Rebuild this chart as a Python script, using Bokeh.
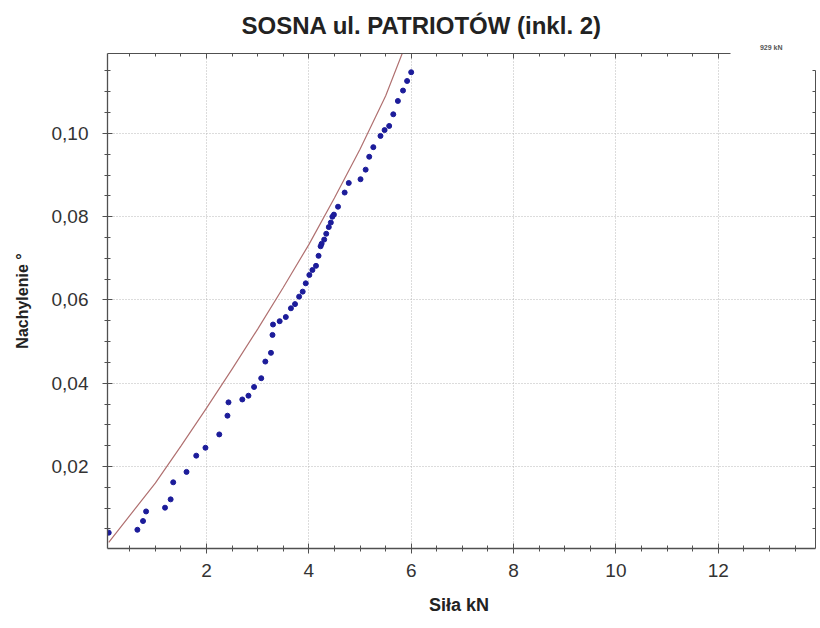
from bokeh.plotting import figure
from bokeh.models import (Range1d, SingleIntervalTicker, LinearAxis, CustomJSTickFormatter, Title)
from bokeh.embed import file_html
from bokeh.resources import INLINE

title_text = "SOSNA ul. PATRIOTÓW (inkl. 2)"
x_label = "Siła  kN"
y_label = "Nachylenie °"
legend_text = "929 kN"

force_kn = [0.09, 0.65, 0.76, 0.82, 1.19, 1.30, 1.35, 1.61, 1.80, 1.98, 2.25, 2.41, 2.43,
            2.70, 2.82, 2.93, 3.07, 3.15, 3.26, 3.29, 3.30, 3.43, 3.55, 3.65, 3.73, 3.81,
            3.88, 3.94, 4.01, 4.07, 4.14, 4.19, 4.23, 4.25, 4.30, 4.34, 4.39, 4.43, 4.46,
            4.49, 4.57, 4.70, 4.78, 5.01, 5.11, 5.18, 5.26, 5.40, 5.48, 5.57, 5.65, 5.74,
            5.84, 5.92, 6.00]
tilt_deg = [0.0041, 0.0048, 0.0069, 0.0092, 0.0101, 0.0121, 0.0162, 0.0187, 0.0226, 0.0245,
            0.0277, 0.0322, 0.0354, 0.0361, 0.0370, 0.0391, 0.0412, 0.0452, 0.0473, 0.0516,
            0.0541, 0.0549, 0.0559, 0.0580, 0.0590, 0.0608, 0.0620, 0.0640, 0.0660, 0.0672,
            0.0682, 0.0706, 0.0729, 0.0735, 0.0745, 0.0759, 0.0775, 0.0786, 0.0800, 0.0805,
            0.0824, 0.0858, 0.0881, 0.0890, 0.0913, 0.0944, 0.0967, 0.0994, 0.1008, 0.1018,
            0.1046, 0.1078, 0.1103, 0.1126, 0.1147]

fit_force_kn = [0.09, 0.50, 1.00, 1.50, 2.00, 2.50, 3.00, 3.50, 4.00, 4.50, 5.00, 5.50, 5.85]
fit_tilt_deg = [0.0018, 0.0082, 0.0160, 0.0249, 0.0340, 0.0434, 0.0530, 0.0630, 0.0733,
                0.0845, 0.0962, 0.1090, 0.1200]

x_tick_step = 2
y_tick_step = 0.02

FONT = "Liberation Sans"
AXIS_COL = "#505050"

x_start, x_end = 0.066, 13.9
y_start, y_end = 0.0003, 0.1192

p = figure(frame_width=708, frame_height=495,
           min_border_left=107, min_border_right=5, min_border_top=53, min_border_bottom=80,
           x_range=Range1d(x_start, x_end), y_range=Range1d(y_start, y_end),
           output_backend="svg", toolbar_location=None)
p.outline_line_color = None
p.background_fill_color = "white"
p.border_fill_color = "white"

p.xgrid.grid_line_color = "#b8b8b8"
p.ygrid.grid_line_color = "#b8b8b8"
p.xgrid.grid_line_dash = "1 2"
p.ygrid.grid_line_dash = "1 2"

xt = SingleIntervalTicker(interval=x_tick_step, num_minor_ticks=4)
yt = SingleIntervalTicker(interval=y_tick_step, num_minor_ticks=4)
p.xaxis.ticker = xt
p.yaxis.ticker = yt
p.xgrid.ticker = xt
p.ygrid.ticker = yt
p.yaxis.formatter = CustomJSTickFormatter(code="return tick.toFixed(2).replace('.', ',');")

for ax in (p.xaxis[0], p.yaxis[0]):
    ax.axis_line_color = AXIS_COL
    ax.axis_line_width = 1.3
    ax.major_tick_line_color = AXIS_COL
    ax.minor_tick_line_color = AXIS_COL
    ax.major_tick_in = 5
    ax.major_tick_out = 5
    ax.minor_tick_in = 3
    ax.minor_tick_out = 3
    ax.major_label_text_font = FONT
    ax.major_label_text_font_size = "19px"
    ax.major_label_text_color = "#333333"
    ax.axis_label_text_font = FONT
    ax.axis_label_text_font_style = "bold"
    ax.axis_label_text_color = "#222222"

p.xaxis.axis_label = x_label
p.yaxis.axis_label = y_label
p.xaxis.axis_label_text_font_size = "18px"
p.yaxis.axis_label_text_font_size = "16px"
p.xaxis.major_label_standoff = 10
p.yaxis.major_label_standoff = 14
p.xaxis.axis_label_standoff = 15
p.yaxis.axis_label_standoff = 18

# top and right frame axes; they stop short of the cropped legend at the top right
blank = CustomJSTickFormatter(code="return '';")
top_ax = LinearAxis(ticker=xt, formatter=blank, bounds=(x_start, 12.24))
right_ax = LinearAxis(ticker=yt, formatter=blank, bounds=(y_start, 0.1151))
for ax, loc in ((top_ax, "above"), (right_ax, "right")):
    ax.axis_line_color = AXIS_COL
    ax.major_tick_line_color = AXIS_COL
    ax.minor_tick_line_color = AXIS_COL
    ax.major_tick_in = 5
    ax.major_tick_out = 0
    ax.minor_tick_in = 3
    ax.minor_tick_out = 0
    ax.major_label_standoff = 0
    ax.major_label_text_font_size = "1px"
    p.add_layout(ax, loc)

# small legend remnant at the top right, then the main title above it
p.add_layout(Title(text=legend_text, align="right", offset=33, text_font=FONT,
                   text_font_size="7px", text_color="#555555", standoff=6), "above")
p.add_layout(Title(text=title_text, align="left", offset=134, text_font=FONT,
                   text_font_size="24px", text_font_style="bold", text_color="#222222",
                   standoff=0), "above")

p.line(fit_force_kn, fit_tilt_deg, line_color="#b07070", line_width=1.2)
p.scatter(force_kn, tilt_deg, size=5, color="#1c1c9a")

open("out.html", "w").write(file_html(p, INLINE))
